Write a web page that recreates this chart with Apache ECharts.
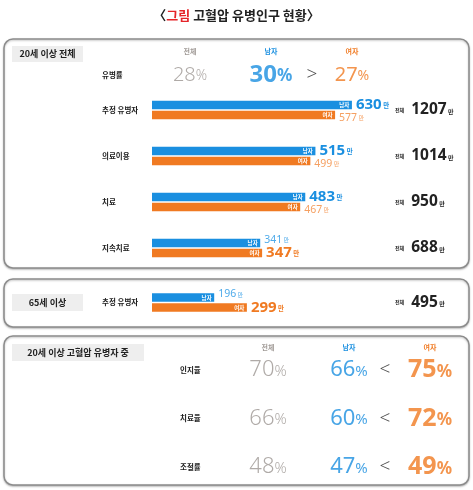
<!DOCTYPE html>
<html><head><meta charset="utf-8">
<script src="https://cdn.jsdelivr.net/npm/echarts@6/dist/echarts.min.js"></script>
<style>html,body{margin:0;padding:0;background:#fff}#c{width:473px;height:490px}</style>
</head><body><div id="c"></div>
<script>
// ---- data ----
const titleLead = '〈';
const titleRed = '그림';
const titleRest = ' 고혈압 유병인구 현황〉';
const sectionLabels = ['20세 이상 전체', '65세 이상', '20세 이상 고혈압 유병자 중'];
const groups = ['전체', '남자', '여자'];
const prevCats = ['유병률'];
const prevTotal = [28];
const prevMale = [30];
const prevFemale = [27];
const prevSign = ['>'];
const countCats = ['추정 유병자', '의료이용', '치료', '지속치료'];
const countMale = [630, 515, 483, 341];
const countFemale = [577, 499, 467, 347];
const countTotal = [1207, 1014, 950, 688];
const elderCats = ['추정 유병자'];
const elderMale = [196];
const elderFemale = [299];
const elderTotal = [495];
const mgmtCats = ['인지율', '치료율', '조절률'];
const mgmtTotal = [70, 66, 48];
const mgmtMale = [66, 60, 47];
const mgmtFemale = [75, 72, 49];
const mgmtSign = ['<', '<', '<'];
const unitLabel = '만';
const totalLabel = '전체';

// ---- style ----
const KR = "'Noto Sans CJK KR', sans-serif";
const NUM = "'Noto Sans', 'Noto Sans CJK KR', sans-serif";
const BLUE = '#1a8fe0', ORANGE = '#f07a22', LBLUE = '#4fabea', LORANGE = '#f5a062', GRAY = '#9b9591', INK = '#222';

const chart = echarts.init(document.getElementById('c'), null, {renderer: 'canvas'});

function rowLabel(margin) {
  return {show: true, align: 'left', margin: margin, fontFamily: KR, fontSize: 7.5, fontWeight: 'bold', color: INK};
}
function hideAxis(o) {
  return Object.assign({axisLine: {show: false}, axisTick: {show: false}, splitLine: {show: false}}, o);
}
function headerAxis(gridIndex, margin) {
  return hideAxis({type: 'category', gridIndex: gridIndex, data: groups, position: 'top',
    axisLabel: {margin: margin, formatter: (v, i) => '{g' + i + '|' + v + '}',
      rich: {g0: {color: '#a09a96', fontSize: 7, fontWeight: 'bold', fontFamily: KR},
             g1: {color: BLUE, fontSize: 7, fontWeight: 'bold', fontFamily: KR},
             g2: {color: ORANGE, fontSize: 7, fontWeight: 'bold', fontFamily: KR}}}});
}
function totalAxis(gridIndex, cats, totals) {
  return hideAxis({type: 'category', gridIndex: gridIndex, data: cats, inverse: true, position: 'right',
    axisLabel: {align: 'left', margin: 5, formatter: (v, i) => '{t|' + totalLabel + '}{v|' + totals[i] + '}{u| ' + unitLabel + '}',
      rich: {t: {fontSize: 5, fontWeight: 'bold', color: INK, fontFamily: KR, padding: [0, 7, 0, 0]},
             v: {fontSize: 15.5, fontWeight: 'bold', color: INK, fontFamily: NUM},
             u: {fontSize: 6, fontWeight: 'bold', color: INK, fontFamily: KR, verticalAlign: 'bottom', padding: [0, 0, 3.5, 0]}}}});
}

function barSeries(xi, yMain, yOver, male, female) {
  const common = {type: 'bar', barWidth: 8.5, barGap: '18%', xAxisIndex: xi};
  const tag = t => ({show: true, position: 'insideRight', distance: 2.5, formatter: t, color: '#fff', fontSize: 5.5, fontWeight: 'bold', fontFamily: KR});
  const valLabel = (vals, other, isMale) => ({
    show: true, position: 'right', distance: 4,
    formatter: p => {
      const big = vals[p.dataIndex] >= other[p.dataIndex];
      return big ? '{b|' + vals[p.dataIndex] + '}{bu| ' + unitLabel + '}' : '{s|' + vals[p.dataIndex] + '}{su| ' + unitLabel + '}';
    },
    rich: {
      b: {fontSize: 15, fontWeight: 'bold', color: isMale ? BLUE : ORANGE, fontFamily: NUM},
      bu: {fontSize: 6.5, fontWeight: 'bold', color: isMale ? BLUE : ORANGE, fontFamily: KR, verticalAlign: 'bottom', padding: [0, 0, 3.5, 0]},
      s: {fontSize: 10.5, color: isMale ? LBLUE : LORANGE, fontFamily: NUM},
      su: {fontSize: 6, color: isMale ? LBLUE : LORANGE, fontFamily: KR, verticalAlign: 'bottom', padding: [0, 0, 2.5, 0]}
    }
  });
  const overData = (vals, other, isMale) => vals.map((v, i) => ({value: v,
    label: {offset: [0, v >= other[i] ? 0 : (isMale ? -3 : 3)]}}));
  return [
    Object.assign({}, common, {name: groups[1], yAxisIndex: yMain, data: male, itemStyle: {color: BLUE}, label: tag(groups[1])}),
    Object.assign({}, common, {name: groups[2], yAxisIndex: yMain, data: female, itemStyle: {color: ORANGE}, label: tag(groups[2])}),
    Object.assign({}, common, {yAxisIndex: yOver, silent: true, data: overData(male, female, true), itemStyle: {color: 'rgba(0,0,0,0)'}, label: valLabel(male, female, true)}),
    Object.assign({}, common, {yAxisIndex: yOver, silent: true, data: overData(female, male, false), itemStyle: {color: 'rgba(0,0,0,0)'}, label: valLabel(female, male, false)})
  ];
}

function pctSeries(xi, yi, cats, vals, gi, other, sizes) {
  const colors = [GRAY, BLUE, ORANGE];
  const w = gi === 0 ? 300 : 'normal';
  return {
    type: 'scatter', xAxisIndex: xi, yAxisIndex: yi, symbolSize: 1, itemStyle: {color: 'rgba(0,0,0,0)'}, silent: true,
    data: cats.map((c, i) => [groups[gi], c, vals[i]]),
    label: {show: true, position: 'inside',
      formatter: p => {
        const i = p.dataIndex;
        const big = other && vals[i] > other[i];
        return big ? '{vb|' + vals[i] + '}{pb|%}' : '{v|' + vals[i] + '}{p|%}';
      },
      rich: {
        v: {fontSize: sizes[0], color: colors[gi], fontFamily: NUM, fontWeight: w},
        p: {fontSize: sizes[1], color: colors[gi], fontFamily: NUM, fontWeight: w, verticalAlign: 'bottom', padding: [0, 0, 2, 0]},
        vb: {fontSize: sizes[2], color: colors[gi], fontFamily: NUM, fontWeight: 'bold'},
        pb: {fontSize: sizes[3], color: colors[gi], fontFamily: NUM, fontWeight: 'bold', verticalAlign: 'bottom', padding: [0, 0, 2, 0]}
      }}
  };
}
function signSeries(xi, yi, cats, signs, dx) {
  return {
    type: 'scatter', xAxisIndex: xi, yAxisIndex: yi, symbolSize: 1, itemStyle: {color: 'rgba(0,0,0,0)'}, silent: true,
    data: cats.map(c => [groups[2], c]),
    label: {show: true, position: 'inside', offset: [dx, 0], formatter: p => signs[p.dataIndex],
      fontSize: 19, color: INK, fontFamily: NUM, fontWeight: 300}
  };
}

function panel(x, y, w, h) {
  return {type: 'rect', shape: {x: x, y: y, width: w, height: h, r: 9}, z: -10,
    style: {fill: '#fff', stroke: '#8c8c8c', lineWidth: 1.5, shadowBlur: 2, shadowOffsetY: 1, shadowColor: 'rgba(0,0,0,0.25)'}};
}
function tagBox(x, y, w, h, text) {
  return {type: 'group', z: -5, children: [
    {type: 'rect', shape: {x: x, y: y, width: w, height: h}, style: {fill: '#eeeeee'}},
    {type: 'text', x: x + w / 2, y: y + h / 2, style: {text: text, fontFamily: KR, fontSize: 9, fontWeight: 'bold', fill: INK, align: 'center', verticalAlign: 'middle'}}
  ]};
}

const option = {
  animation: false,
  textStyle: {fontFamily: KR},
  graphic: [
    {type: 'text', x: 236.5, y: 15, style: {
      text: '{b|' + titleLead + '}{r|' + titleRed + '}{b|' + titleRest + '}', align: 'center', verticalAlign: 'middle',
      rich: {b: {fontFamily: KR, fontSize: 13, fontWeight: 'bold', fill: INK}, r: {fontFamily: KR, fontSize: 13, fontWeight: 'bold', fill: '#e5252a'}}}},
    panel(4, 39, 465, 229),
    panel(4, 279, 465, 48),
    panel(4, 336, 465, 149),
    tagBox(12, 46, 71, 16, sectionLabels[0]),
    tagBox(12, 294, 71, 17, sectionLabels[1]),
    tagBox(12, 344, 132, 17, sectionLabels[2])
  ],
  grid: [
    {left: 149.5, top: 63, width: 243, height: 24},
    {left: 152, top: 87, width: 238, height: 184},
    {left: 152, top: 279.5, width: 238, height: 46},
    {left: 227.5, top: 370, width: 243, height: 97}
  ],
  xAxis: [
    headerAxis(0, 8.5),
    {type: 'value', gridIndex: 1, min: 0, max: 750, show: false},
    {type: 'value', gridIndex: 2, min: 0, max: 750, show: false},
    headerAxis(3, 19.5)
  ],
  yAxis: [
    hideAxis({type: 'category', gridIndex: 0, data: prevCats, axisLabel: rowLabel(47.5)}),
    hideAxis({type: 'category', gridIndex: 1, data: countCats, inverse: true, axisLabel: rowLabel(50)}),
    totalAxis(1, countCats, countTotal),
    hideAxis({type: 'category', gridIndex: 2, data: elderCats, inverse: true, axisLabel: rowLabel(50)}),
    totalAxis(2, elderCats, elderTotal),
    hideAxis({type: 'category', gridIndex: 3, data: mgmtCats, inverse: true, boundaryGap: false, axisLabel: rowLabel(47.5)})
  ],
  series: [
    pctSeries(0, 0, prevCats, prevTotal, 0, null, [20, 14, 24, 17]),
    pctSeries(0, 0, prevCats, prevMale, 1, prevFemale, [20, 14, 24, 17]),
    pctSeries(0, 0, prevCats, prevFemale, 2, prevMale, [20, 14, 24, 17]),
    signSeries(0, 0, prevCats, prevSign, -40),
    ...barSeries(1, 1, 2, countMale, countFemale),
    ...barSeries(2, 3, 4, elderMale, elderFemale),
    pctSeries(3, 5, mgmtCats, mgmtTotal, 0, null, [22, 15, 25, 17]),
    pctSeries(3, 5, mgmtCats, mgmtMale, 1, mgmtFemale, [22, 15, 25, 17]),
    pctSeries(3, 5, mgmtCats, mgmtFemale, 2, mgmtMale, [22, 15, 25, 17]),
    signSeries(3, 5, mgmtCats, mgmtSign, -45)
  ]
};
chart.setOption(option);
</script></body></html>
